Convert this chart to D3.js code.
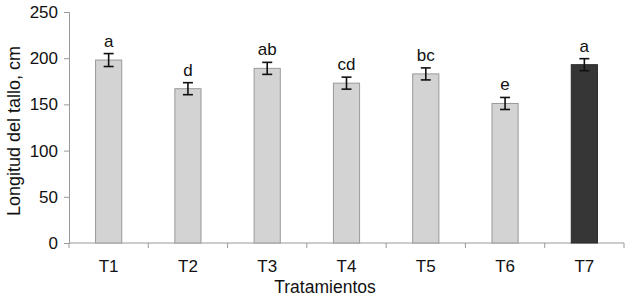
<!DOCTYPE html>
<html>
<head>
<meta charset="utf-8">
<script src="https://cdn.jsdelivr.net/npm/d3@7"></script>
<style>
  body { margin: 0; background: #fff; overflow: hidden; }
  svg { display: block; }
  text { font-family: "Liberation Sans", Arial, sans-serif; fill: #111; }
</style>
</head>
<body>
<svg></svg>
<script>
const categories = ['T1', 'T2', 'T3', 'T4', 'T5', 'T6', 'T7'];
const values = [198, 167, 189, 173, 183, 151, 193];
const errors = [7, 6.5, 6.5, 6.5, 6.5, 6.5, 6.5];
const letters = ['a', 'd', 'ab', 'cd', 'bc', 'e', 'a'];
const yTicks = [0, 50, 100, 150, 200, 250];

const width = 629, height = 300;
const margin = {top: 12, right: 5, bottom: 57, left: 69};
const innerWidth = width - margin.left - margin.right;
const innerHeight = height - margin.top - margin.bottom;

const svg = d3.select('svg')
  .attr('width', width)
  .attr('height', height);

const g = svg.append('g')
  .attr('transform', `translate(${margin.left}, ${margin.top})`);

const xScale = d3.scaleBand()
  .domain(categories)
  .range([0, innerWidth])
  .paddingInner(0.67)
  .paddingOuter(0.335);

const yScale = d3.scaleLinear()
  .domain([0, 250])
  .range([innerHeight, 0]);

// y axis
const yAxis = g.append('g')
  .call(d3.axisLeft(yScale).tickValues(yTicks).tickSize(5).tickPadding(6));
yAxis.selectAll('line, path').attr('stroke', '#999');
yAxis.selectAll('text').style('font-size', '17px').attr('fill', '#111');

// x axis with ticks at band boundaries
const step = xScale.step();
g.append('line')
  .attr('x1', 0).attr('x2', innerWidth)
  .attr('y1', innerHeight).attr('y2', innerHeight)
  .attr('stroke', '#999');
g.selectAll('.xtick')
  .data(d3.range(categories.length + 1))
  .join('line')
  .attr('x1', i => i * step).attr('x2', i => i * step)
  .attr('y1', innerHeight).attr('y2', innerHeight + 5)
  .attr('stroke', '#999');

g.selectAll('.xlabel')
  .data(categories)
  .join('text')
  .attr('x', d => xScale(d) + xScale.bandwidth() / 2)
  .attr('y', innerHeight + 29)
  .attr('text-anchor', 'middle')
  .style('font-size', '17px')
  .text(d => d);

// bars
g.selectAll('.bar')
  .data(categories)
  .join('rect')
  .attr('x', d => xScale(d))
  .attr('y', (d, i) => yScale(values[i]))
  .attr('width', xScale.bandwidth())
  .attr('height', (d, i) => innerHeight - yScale(values[i]))
  .attr('fill', (d, i) => i === 6 ? '#363636' : '#d3d3d3')
  .attr('stroke', (d, i) => i === 6 ? '#2a2a2a' : '#999')
  .attr('stroke-width', 1);

// error bars
const eb = g.selectAll('.err')
  .data(categories)
  .join('g')
  .attr('transform', d => `translate(${xScale(d) + xScale.bandwidth() / 2},0)`);
eb.append('line')
  .attr('y1', (d, i) => yScale(values[i] + errors[i]))
  .attr('y2', (d, i) => yScale(values[i] - errors[i]))
  .attr('stroke', '#111').attr('stroke-width', 1.6);
eb.append('line')
  .attr('x1', -5).attr('x2', 5)
  .attr('y1', (d, i) => yScale(values[i] + errors[i]))
  .attr('y2', (d, i) => yScale(values[i] + errors[i]))
  .attr('stroke', '#111').attr('stroke-width', 1.6);
eb.append('line')
  .attr('x1', -5).attr('x2', 5)
  .attr('y1', (d, i) => yScale(values[i] - errors[i]))
  .attr('y2', (d, i) => yScale(values[i] - errors[i]))
  .attr('stroke', '#111').attr('stroke-width', 1.6);
eb.append('text')
  .attr('y', (d, i) => yScale(values[i] + errors[i]) - 7)
  .attr('text-anchor', 'middle')
  .style('font-size', '17px')
  .text((d, i) => letters[i]);

// axis titles
svg.append('text')
  .attr('transform', `translate(20, 131) rotate(-90)`)
  .attr('text-anchor', 'middle')
  .style('font-size', '18px')
  .text('Longitud del tallo, cm');

svg.append('text')
  .attr('x', 325)
  .attr('y', 293)
  .attr('text-anchor', 'middle')
  .style('font-size', '17.5px')
  .text('Tratamientos');
</script>
</body>
</html>
